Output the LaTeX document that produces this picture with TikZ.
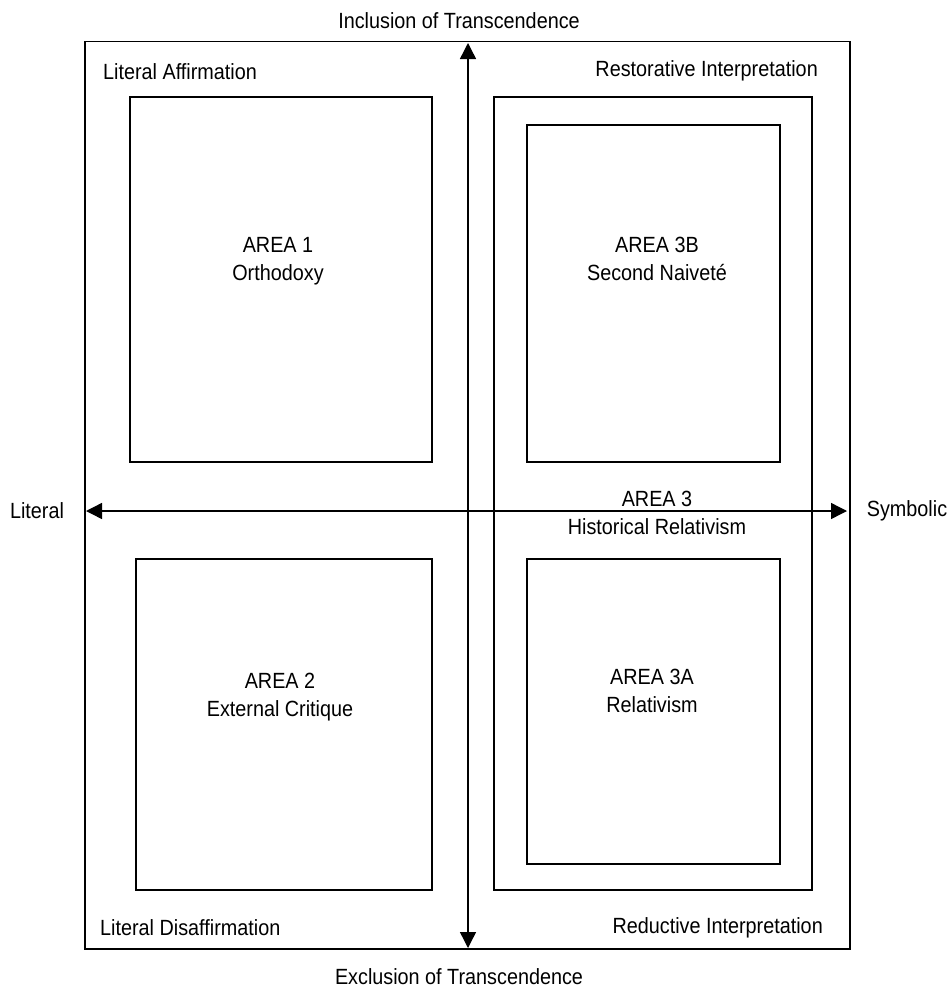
\documentclass[tikz,border=0pt]{standalone}
\usepackage{fontspec}
\setmainfont{Liberation Sans}[FakeStretch=0.9]
\usetikzlibrary{fit,arrows.meta}
\begin{document}
\begin{tikzpicture}[x=1pt,y=-1pt,
  box/.style={draw,line width=1.4pt,inner sep=0pt,outer sep=0pt},
  txt/.style={inner sep=0pt,font=\fontsize{22}{28}\selectfont,align=center},
  axis/.style={line width=1.4pt,{Triangle[width=16pt,length=16pt]}-{Triangle[width=16pt,length=16pt]}}]
\useasboundingbox (0,0) rectangle (951,988);
% boxes
\node[box,fit={(85,41.5) (850,949)}] (outer) {};
\node[box,fit={(130,97) (432,462)}] (a1) {};
\node[box,fit={(136,559) (432,890)}] (a2) {};
\node[box,fit={(494,97) (812,890)}] (a3) {};
\node[box,fit={(527,125) (780,462)}] (a3b) {};
\node[box,fit={(527,559) (780,864)}] (a3a) {};
% axes
\coordinate (vtop) at (468,43);
\coordinate (vbot) at (468,948);
\coordinate (hleft) at (86,511);
\coordinate (hright) at (847,511);
\draw[axis] (vbot) -- (vtop);
\draw[axis] (hleft) -- (hright);
% box texts
\node[txt] (t1) at (278,261) {AREA 1\\Orthodoxy};
\node[txt] (t3b) at (657,259) {AREA 3B\\Second Naiveté};
\node[txt] (t2) at (280,697) {AREA 2\\External Critique};
\node[txt] (t3a) at (652,691) {AREA 3A\\Relativism};
\node[txt] (t3) at (657,512.5) {AREA 3\\Historical Relativism};
% axis labels
\node[txt] (incl) at (459,21) {Inclusion of Transcendence};
\node[txt] (excl) at (459,977) {Exclusion of Transcendence};
\node[txt] (lit) at (37,511) {Literal};
\node[txt] (sym) at (907,511) {Symbolic};
% corner labels
\node[txt,anchor=west] (la) at (103,72) {Literal Affirmation};
\node[txt,anchor=east] (ri) at (818,71) {Restorative Interpretation};
\node[txt,anchor=west] (ld) at (100,928) {Literal Disaffirmation};
\node[txt,anchor=east] (rd) at (823,928) {Reductive Interpretation};
\end{tikzpicture}
\end{document}
